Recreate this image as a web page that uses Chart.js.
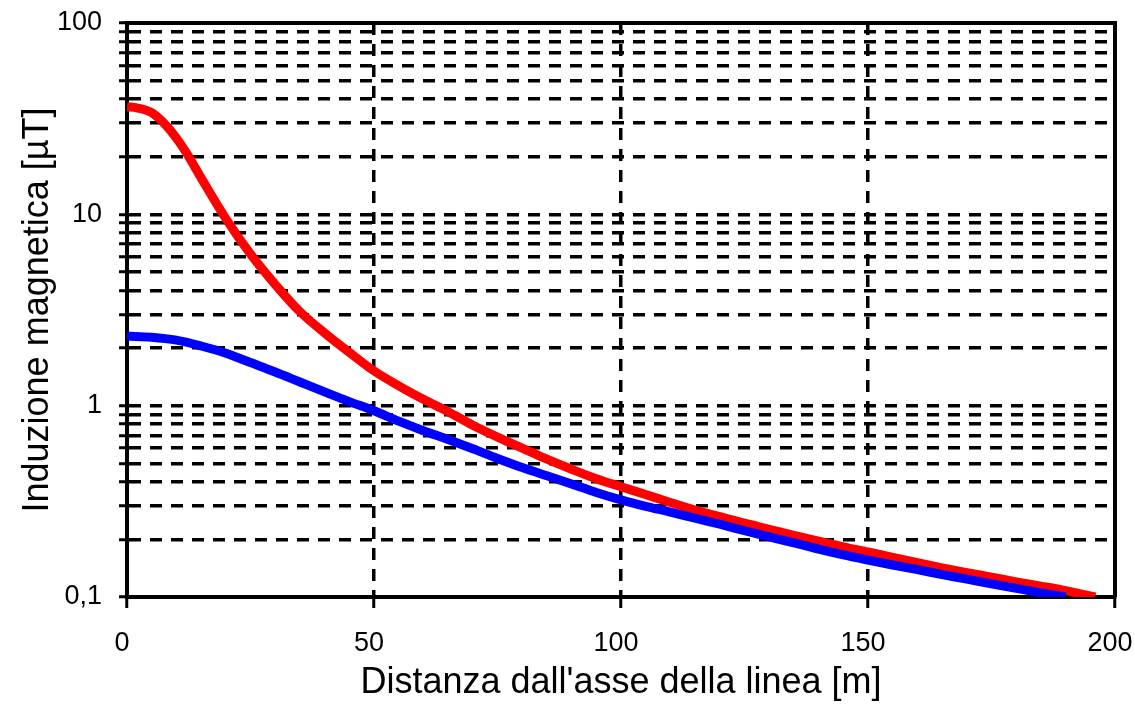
<!DOCTYPE html>
<html lang="it">
<head>
  <meta charset="UTF-8" />
  <title>Induzione magnetica</title>
  <script src="https://cdn.jsdelivr.net/npm/chart.js"></script>
  <style>
    body { margin: 0; background: #fff; }
    #box { width: 1135px; height: 705px; }
  </style>
</head>
<body>
  <div id="box"><canvas id="grafico" width="1135" height="705"></canvas></div>
  <script>
    // distanza dall'asse [m]
    const distRosso = [0, 2, 5, 8, 10, 12, 15, 20, 25, 30, 35, 40, 45, 50, 55, 60, 65, 70, 75, 80, 85, 90,
      95, 100, 105, 110, 115, 120, 125, 130, 135, 140, 145, 150, 155, 160, 165, 170, 175, 180, 185, 190, 196];
    const valRosso = [36.5, 36, 34, 29, 25, 21, 15.5, 9.5, 6.2, 4.3, 3.1, 2.4, 1.9, 1.52, 1.27, 1.08, 0.93, 0.79, 0.685, 0.6, 0.525, 0.465,
      0.415, 0.377, 0.343, 0.312, 0.285, 0.263, 0.243, 0.226, 0.21, 0.196, 0.183, 0.172, 0.161, 0.151, 0.142, 0.134, 0.127, 0.12, 0.114, 0.108, 0.1];

    const distBlu = [0, 5, 10, 15, 20, 25, 30, 35, 40, 45, 50, 55, 60, 65, 70, 75, 80, 85, 90,
      95, 100, 105, 110, 115, 120, 125, 130, 135, 140, 145, 150, 155, 160, 165, 170, 175, 180, 185, 190];
    const valBlu = [2.31, 2.28, 2.2, 2.05, 1.88, 1.68, 1.5, 1.33, 1.18, 1.05, 0.94, 0.83, 0.74, 0.665, 0.595, 0.53, 0.475, 0.43, 0.39,
      0.352, 0.322, 0.298, 0.278, 0.258, 0.24, 0.222, 0.206, 0.192, 0.178, 0.166, 0.156, 0.147, 0.139, 0.131, 0.124, 0.117, 0.111, 0.105, 0.1];

    const xTicks = [0, 50, 100, 150, 200];
    const yGriglia = [0.1, 0.2, 0.3, 0.4, 0.5, 0.6, 0.7, 0.8, 0.9, 1, 2, 3, 4, 5, 6, 7, 8, 9, 10, 20, 30, 40, 50, 60, 70, 80, 90, 100];
    const yEtichettaVal = [0.1, 1, 10, 100];
    const yEtichette = ["0,1", "1", "10", "100"];

    const punti = (xs, ys) => xs.map((x, i) => ({ x: x, y: ys[i] }));

    // cornice sopra e a destra
    const cornice = {
      id: "cornice",
      beforeDatasetsDraw(chart) {
        const a = chart.chartArea, c = chart.ctx;
        c.save();
        c.strokeStyle = "#000";
        c.lineWidth = 4;
        c.beginPath();
        c.moveTo(a.left, a.top);
        c.lineTo(a.right, a.top);
        c.lineTo(a.right, a.bottom);
        c.stroke();
        c.restore();
      }
    };

    const font = "'Liberation Sans', Arial, sans-serif";

    new Chart(document.getElementById("grafico"), {
      type: "line",
      data: {
        datasets: [
          { label: "blu", data: punti(distBlu, valBlu), borderColor: "#0000ff", borderWidth: 9, pointRadius: 0, cubicInterpolationMode: "monotone" },
          { label: "rosso", data: punti(distRosso, valRosso), borderColor: "#ff0000", borderWidth: 9, pointRadius: 0, cubicInterpolationMode: "monotone" }
        ]
      },
      options: {
        responsive: false,
        animation: false,
        devicePixelRatio: 1,
        layout: { padding: { top: 23, right: 20, left: 0, bottom: 0 } },
        plugins: { legend: { display: false }, tooltip: { enabled: false } },
        scales: {
          x: {
            type: "linear",
            min: 0, max: 200,
            afterBuildTicks: s => { s.ticks = xTicks.map(v => ({ value: v })); },
            afterFit: s => { s.height = 108; s.paddingLeft = 0; s.paddingRight = 0; },
            grid: { color: "#000", lineWidth: 3.5, tickLength: 11, tickWidth: 3, tickColor: "#000", tickBorderDash: [] },
            border: { color: "#000", width: 4, dash: [12, 9] },
            ticks: { color: "#000", padding: 19, labelOffset: -5, maxRotation: 0, autoSkip: false, font: { family: font, size: 27 } },
            title: { display: true, text: "Distanza dall'asse della linea [m]", color: "#000", padding: { top: 0, bottom: 0 }, font: { family: font, size: 36 } }
          },
          y: {
            type: "logarithmic",
            min: 0.1, max: 100,
            afterBuildTicks: s => { s.ticks = yGriglia.map(v => ({ value: v })); },
            afterFit: s => { s.width = 127; s.paddingTop = 0; s.paddingBottom = 0; },
            grid: { color: "#000", lineWidth: 3.5, tickLength: 8, tickWidth: 3, tickColor: "#000", tickBorderDash: [] },
            border: { color: "#000", width: 4, dash: [12, 9] },
            ticks: {
              color: "#000", padding: 17, autoSkip: false, font: { family: font, size: 27 },
              callback: v => { const i = yEtichettaVal.indexOf(v); return i >= 0 ? yEtichette[i] : ""; }
            },
            title: { display: true, text: "Induzione magnetica [µT]", color: "#000", padding: { top: 16, bottom: 0 }, font: { family: font, size: 36 } }
          }
        }
      },
      plugins: [cornice]
    });
  </script>
</body>
</html>
